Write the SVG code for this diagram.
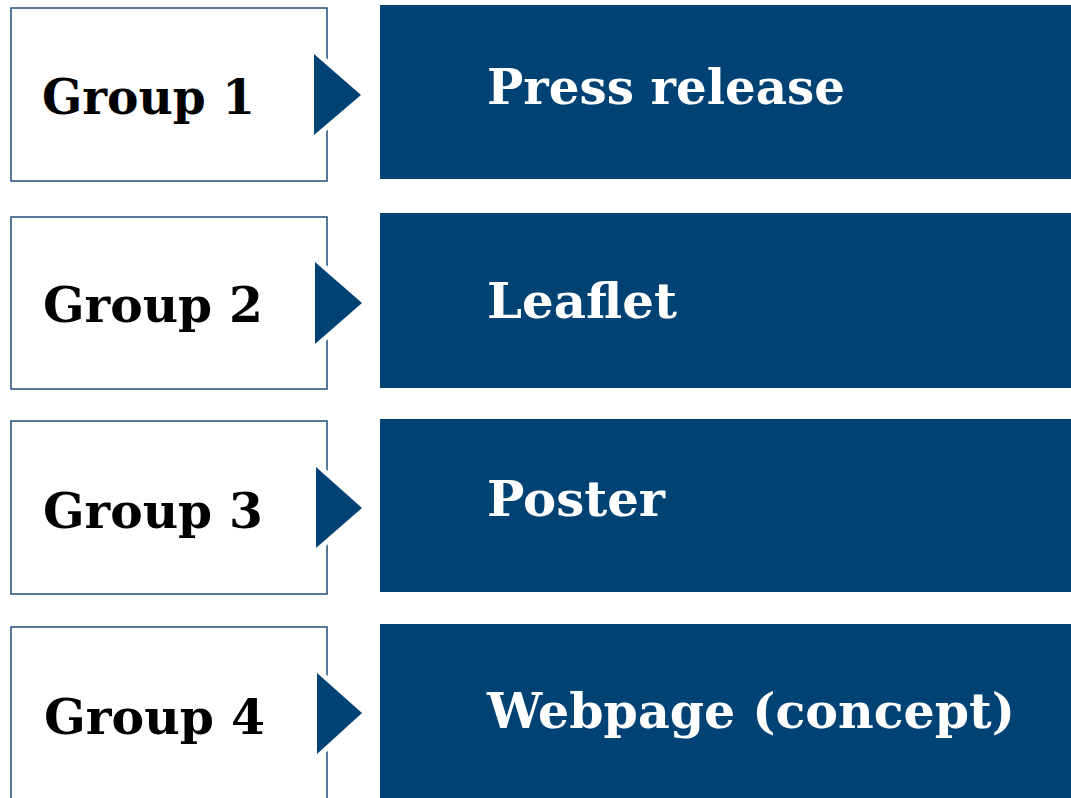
<svg xmlns="http://www.w3.org/2000/svg" width="1071" height="798" viewBox="0 0 1071 798">
<style>
.box{fill:#fff;stroke:#1f4e79;stroke-width:1.5}
.bar{fill:#004274}
.tri{fill:#004274;stroke:#fff;stroke-width:10;paint-order:stroke;stroke-linejoin:miter}
.lbl{font-family:"DejaVu Serif","Liberation Serif",serif;font-weight:bold;font-size:48px;fill:#000}
.t{font-family:"DejaVu Serif","Liberation Serif",serif;font-weight:bold;font-size:48px;fill:#fff}
</style>
<rect width="1071" height="798" fill="#fff"/>
<g id="node1">
<rect class="box" x="11" y="8" width="316" height="173"/>
<text class="lbl" x="42" y="114" textLength="213" lengthAdjust="spacingAndGlyphs">Group 1</text>
</g>
<g id="node2">
<rect class="box" x="11" y="217" width="316" height="172"/>
<text class="lbl" x="43" y="322" textLength="220" lengthAdjust="spacingAndGlyphs">Group 2</text>
</g>
<g id="node3">
<rect class="box" x="11" y="421" width="316" height="173"/>
<text class="lbl" x="43" y="528" textLength="220" lengthAdjust="spacingAndGlyphs">Group 3</text>
</g>
<g id="node4">
<rect class="box" x="11" y="627" width="316" height="180"/>
<text class="lbl" x="44" y="734" textLength="221" lengthAdjust="spacingAndGlyphs">Group 4</text>
</g>
<g id="bar1"><rect class="bar" x="380" y="5" width="691" height="174"/><text class="t" x="487" y="104" textLength="358" lengthAdjust="spacingAndGlyphs">Press release</text></g>
<g id="bar2"><rect class="bar" x="380" y="213" width="691" height="175"/><text class="t" x="487" y="318" textLength="190" lengthAdjust="spacingAndGlyphs">Leaflet</text></g>
<g id="bar3"><rect class="bar" x="380" y="419" width="691" height="173"/><text class="t" x="487" y="516" textLength="178" lengthAdjust="spacingAndGlyphs">Poster</text></g>
<g id="bar4"><rect class="bar" x="380" y="624" width="691" height="180"/><text class="t" x="487" y="728" textLength="528" lengthAdjust="spacingAndGlyphs">Webpage (concept)</text></g>
<g id="connectors">
<polygon class="tri" points="314,54 361,95 314,135"/>
<polygon class="tri" points="315,262 362,303 315,344"/>
<polygon class="tri" points="316,467 362,508 316,548"/>
<polygon class="tri" points="317,673 362,713 317,754"/>
</g>
</svg>
